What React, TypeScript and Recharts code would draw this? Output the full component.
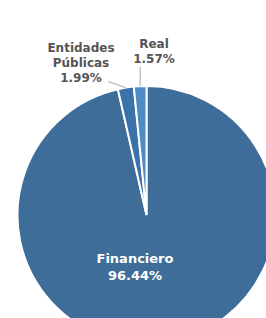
import React from 'react';
import { PieChart, Pie, Cell } from 'recharts';

const sectors = ['Financiero', 'Entidades Públicas', 'Real'];
const shares = [96.44, 1.99, 1.57];
const sectorColors = ['#3d6d98', '#3a72a9', '#4d8cc6'];

const data = sectors.map((name, i) => ({ name, value: shares[i] }));

const RADIAN = Math.PI / 180;

// where each label sits and where its leader line stops
const labelLayout: Record<string, { x: number; y: number; gap: number; size: number; color: string; leader?: [number, number] }> = {
    'Financiero': { x: 135, y: 258, gap: 17, size: 13, color: '#ffffff' },
    'Entidades Públicas': { x: 81, y: 48, gap: 14.8, size: 12, color: '#555555', leader: [108, 81.5] },
    'Real': { x: 154, y: 44, gap: 14.5, size: 12, color: '#555555', leader: [140.2, 67] },
};

const renderLabel = (props: any) => {
    const { cx, cy, midAngle, outerRadius, name, value } = props;
    const layout = labelLayout[name];
    if (!layout) return null;
    const lines = [...name.split(' '), `${value.toFixed(2)}%`];
    const ax = cx + outerRadius * Math.cos(-midAngle * RADIAN);
    const ay = cy + outerRadius * Math.sin(-midAngle * RADIAN);
    return (
        <g>
            {layout.leader && (
                <polyline
                    points={`${ax},${ay} ${layout.leader[0]},${layout.leader[1]}`}
                    stroke="#a6a6a6"
                    strokeWidth={1}
                    fill="none"
                />
            )}
            {lines.map((line, i) => (
                <text
                    key={i}
                    x={layout.x}
                    y={layout.y + i * layout.gap}
                    textAnchor="middle"
                    dominantBaseline="central"
                    fill={layout.color}
                    fontFamily="'DejaVu Sans', Verdana, sans-serif"
                    fontWeight="bold"
                    fontSize={layout.size}
                >
                    {line}
                </text>
            ))}
        </g>
    );
};

const App: React.FC = () => (
    <div style={{ position: 'absolute', left: 0, top: 0, width: 266, height: 318, background: '#ffffff' }}>
        <PieChart width={266} height={318} margin={{ top: 0, right: 0, bottom: 0, left: 0 }}>
            <Pie
                data={data}
                dataKey="value"
                nameKey="name"
                cx={146.5}
                cy={215}
                outerRadius={129}
                startAngle={90}
                endAngle={-270}
                stroke="#ffffff"
                strokeWidth={2}
                label={renderLabel}
                labelLine={false}
                isAnimationActive={false}
            >
                {data.map((entry, index) => <Cell key={`cell-${index}`} fill={sectorColors[index % sectorColors.length]} />)}
            </Pie>
        </PieChart>
    </div>
);

export default App;
